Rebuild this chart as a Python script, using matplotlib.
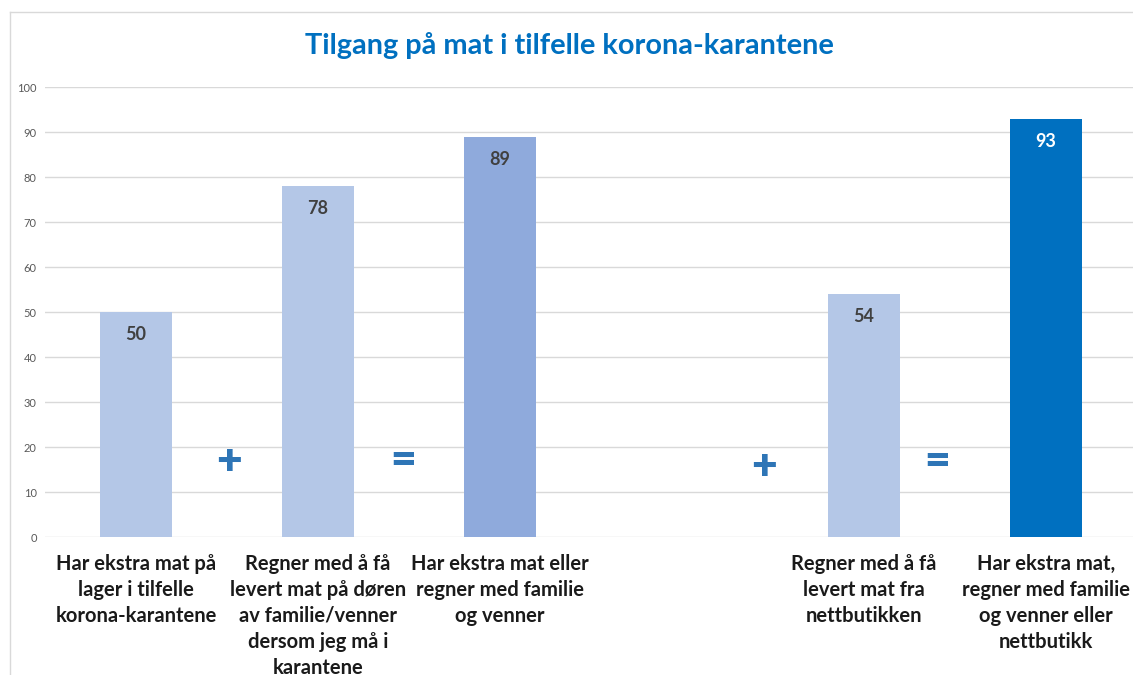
import matplotlib.pyplot as plt
from matplotlib.lines import Line2D

# Data
kategorier = [
    "Har ekstra mat på\nlager i tilfelle\nkorona-karantene",
    "Regner med å få\nlevert mat på døren\nav familie/venner\ndersom jeg må i\nkarantene",
    "Har ekstra mat eller\nregner med familie\nog venner",
    "",
    "Regner med å få\nlevert mat fra\nnettbutikken",
    "Har ekstra mat,\nregner med familie\nog venner eller\nnettbutikk",
]
verdier = [50, 78, 89, None, 54, 93]
farger = ["#B4C7E7", "#B4C7E7", "#8FAADC", None, "#B4C7E7", "#0070C0"]
etikett_farger = ["#404040", "#404040", "#404040", None, "#404040", "white"]

# Tegn mellom søylene (+ og =)
tegn = ["+", "=", "+", "="]
tegn_x = [0.51, 1.47, 3.45, 4.40]
tegn_y = [16.7, 17.1, 15.6, 16.9]

plt.rcParams['font.family'] = ['Lato', 'DejaVu Sans']

fig = plt.figure(figsize=(11.33, 6.75), dpi=100)
ax = fig.add_axes([45 / 1133, 0.2044, 1092 / 1133, 0.6667])

for i, v in enumerate(verdier):
    if v is None:
        continue
    ax.bar(i, v, width=0.4, color=farger[i], zorder=2)
    ax.text(i, v - 5, str(v), ha='center', va='center', fontsize=13,
            fontweight='bold', color=etikett_farger[i], zorder=3)

for t, x, y in zip(tegn, tegn_x, tegn_y):
    ax.text(x, y, t, ha='center', va='center', fontsize=32,
            fontweight='heavy', color="#2E75B6", zorder=3)

ax.set_xlim(-0.5, 5.5)
ax.set_ylim(0, 100)
ax.set_yticks(range(0, 101, 10))
ax.set_xticks(range(len(kategorier)))
ax.set_xticklabels(kategorier, fontsize=14.5, fontweight='bold', color="#1a1a1a",
                   linespacing=1.38)
ax.tick_params(axis='x', length=0, pad=12)
ax.tick_params(axis='y', length=0, labelsize=8, labelcolor="#595959", pad=6)
ax.grid(axis='y', color="#D9D9D9", linewidth=1, zorder=0)
for s in ax.spines.values():
    s.set_visible(False)

fig.text(0.503, 0.932, "Tilgang på mat i tilfelle korona-karantene", ha='center',
         va='center', fontsize=20.8, fontweight='bold', color="#0070C0")

# Ramme rundt diagrammet
fig.add_artist(Line2D([10 / 1133, 10 / 1133], [0, 1 - 12 / 675],
                      color="#D9D9D9", linewidth=1))
fig.add_artist(Line2D([10 / 1133, 1], [1 - 12 / 675, 1 - 12 / 675],
                      color="#D9D9D9", linewidth=1))

fig.savefig("out.png", dpi=100)
